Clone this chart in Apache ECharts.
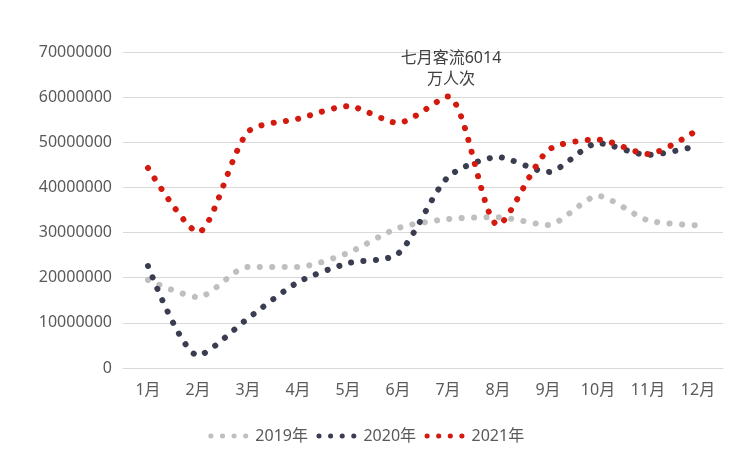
<!DOCTYPE html>
<html>
<head>
<meta charset="utf-8">
<script src="https://cdn.jsdelivr.net/npm/echarts@6/dist/echarts.min.js"></script>
<style>
html,body{margin:0;padding:0;background:#fff;}
#c{width:730px;height:464px;}
</style>
</head>
<body>
<div id="c"></div>
<script>
const months = ['1月','2月','3月','4月','5月','6月','7月','8月','9月','10月','11月','12月'];
const seriesNames = ['2019年','2020年','2021年'];
const data2019 = [19500000,15700000,22400000,22400000,25500000,31000000,33000000,33400000,31700000,38100000,32700000,31600000];
const data2020 = [22600000,2800000,11000000,19000000,23200000,25300000,42300000,46700000,43400000,49800000,47200000,49200000];
const data2021 = [44300000,30100000,52300000,55200000,58000000,54300000,60140000,31700000,48200000,50600000,47400000,52800000];
const yTicks = [0,10000000,20000000,30000000,40000000,50000000,60000000,70000000];
const annotation = '七月客流6014\n万人次';

const colors = ['#bfbfbf','#3a3d4f','#d41a0e'];
const font = '"Noto Sans","Noto Sans CJK SC",sans-serif';
const chart = echarts.init(document.getElementById('c'));
function mk(name, data, color){
  return {
    name, type:'line', data, smooth:0.25, symbol:'none', color,
    lineStyle:{width:6, color, type:[0.1,12.3], cap:'round'},
    emphasis:{disabled:true}
  };
}
chart.setOption({
  animation:false,
  textStyle:{fontFamily:font},
  title:{
    text:annotation, left:446, top:43, textAlign:'center',
    textStyle:{fontSize:16, fontWeight:'normal', color:'#404040', lineHeight:21, fontFamily:font}
  },
  grid:{left:123, right:7, top:52, bottom:96, containLabel:false},
  xAxis:{
    type:'category', data:months, boundaryGap:true,
    axisLine:{show:true, lineStyle:{color:'#d9d9d9', width:1}},
    axisTick:{show:false},
    axisLabel:{color:'#595959', fontSize:16, margin:14, fontFamily:font}
  },
  yAxis:{
    type:'value', min:yTicks[0], max:yTicks[yTicks.length-1], interval:10000000,
    axisLine:{show:false}, axisTick:{show:false},
    axisLabel:{color:'#595959', fontSize:16, margin:11, fontFamily:font, formatter:function(v){return String(v);}},
    splitLine:{lineStyle:{color:'#d9d9d9', width:1}}
  },
  legend:{
    data:seriesNames, left:'center', top:423, itemWidth:42, itemHeight:12, itemGap:6,
    itemStyle:{opacity:0},
    lineStyle:{width:5, type:[0.1,11.5], cap:'round', dashOffset:-2.5},
    textStyle:{color:'#595959', fontSize:16, fontFamily:font}
  },
  series:[
    mk(seriesNames[0], data2019, colors[0]),
    mk(seriesNames[1], data2020, colors[1]),
    mk(seriesNames[2], data2021, colors[2])
  ]
});
</script>
</body>
</html>
